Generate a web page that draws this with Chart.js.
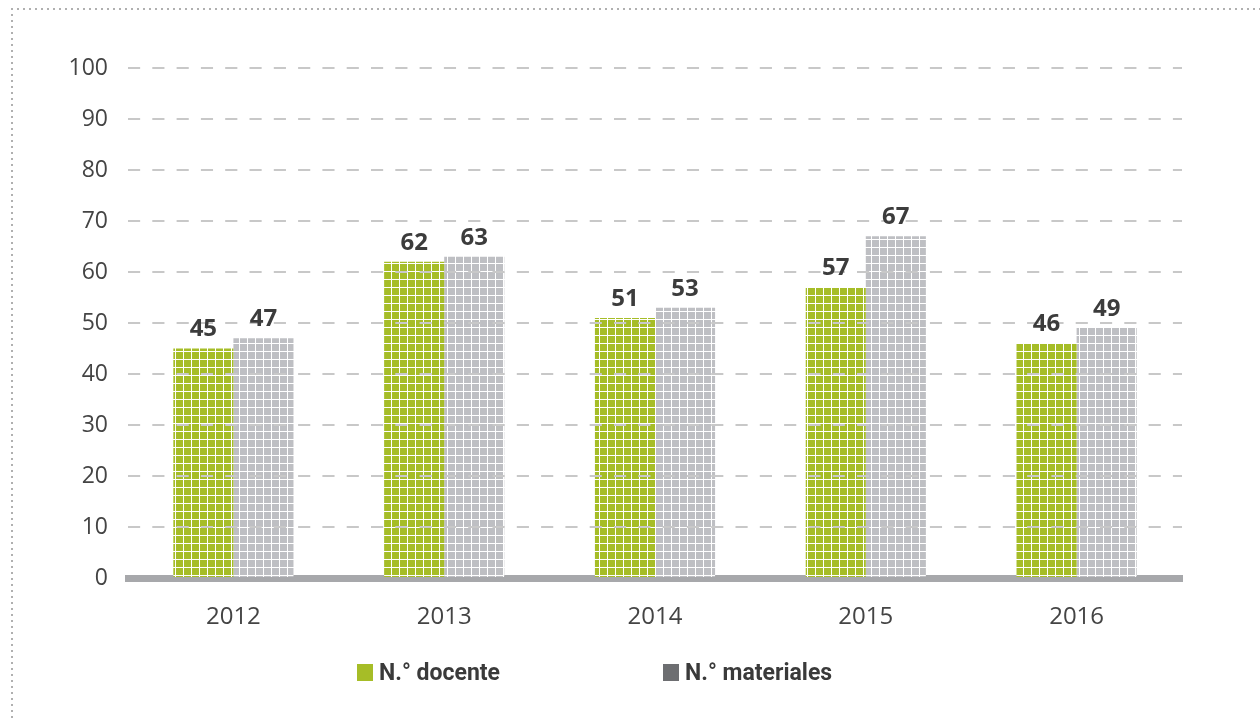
<!DOCTYPE html>
<html>
<head>
<meta charset="utf-8">
<script src="https://cdn.jsdelivr.net/npm/chart.js@4.4.1/dist/chart.umd.min.js"></script>
<style>
    html, body { margin: 0; padding: 0; background: #fff; }
    #wrap { position: relative; width: 1260px; height: 718px; overflow: hidden; }
    #chart { position: absolute; left: 0; top: 0; }
    .dots-top { position: absolute; left: 11px; top: 8px; right: 0; height: 2px;
        background: repeating-linear-gradient(to right, #b0b0b0 0 2px, transparent 2px 6px); }
    .dots-left { position: absolute; left: 11px; top: 8px; bottom: 0; width: 2px;
        background: repeating-linear-gradient(to bottom, #b0b0b0 0 2px, transparent 2px 6px); }
    .legend { position: absolute; top: 662px; font-family: "Liberation Sans Narrow", "Roboto", sans-serif;
        font-weight: bold; font-size: 23px; color: #3a3a3a; line-height: 22px; white-space: nowrap; }
    .legend span.box { display: inline-block; width: 16px; height: 17px; margin-right: 6px; vertical-align: -1px; }
</style>
</head>
<body>
<div id="wrap">
    <div class="dots-top"></div>
    <div class="dots-left"></div>
    <canvas id="chart" width="1260" height="718"></canvas>
    <div class="legend" id="leg1" style="left:357px"><span class="box" style="background:#a6bd27"></span>N.° docente</div>
    <div class="legend" id="leg2" style="left:663px"><span class="box" style="background:#6d6e71"></span>N.° materiales</div>
</div>
<script>
const years = ["2012", "2013", "2014", "2015", "2016"];
const docente = [45, 62, 51, 57, 46];
const materiales = [47, 63, 53, 67, 49];
const yTicks = [0, 10, 20, 30, 40, 50, 60, 70, 80, 90, 100];

function makePattern(color) {
    const tile = document.createElement("canvas");
    tile.width = 8;
    tile.height = 8;
    const c = tile.getContext("2d");
    c.fillStyle = color;
    c.fillRect(0, 0, 8, 8);
    c.fillStyle = "#ffffff";
    c.fillRect(7, 0, 1, 8);
    c.fillRect(0, 7, 8, 1);
    return document.getElementById("chart").getContext("2d").createPattern(tile, "repeat");
}

// value labels above the bars
const barLabels = {
    id: "barLabels",
    afterDraw(chart) {
        const ctx = chart.ctx;
        ctx.save();
        ctx.font = "bold 24px 'Open Sans', sans-serif";
        ctx.fillStyle = "#3c3c3c";
        ctx.textAlign = "center";
        ctx.textBaseline = "bottom";
        chart.data.datasets.forEach((ds, i) => {
            chart.getDatasetMeta(i).data.forEach((bar, j) => {
                ctx.fillText(ds.data[j], bar.x, bar.y - 7);
            });
        });
        ctx.restore();
    },
};

new Chart(document.getElementById("chart"), {
    type: "bar",
    data: {
        labels: years,
        datasets: [
            {
                label: "N.° docente",
                data: docente,
                backgroundColor: makePattern("#a6bd27"),
                borderWidth: 0,
                barPercentage: 1,
                categoryPercentage: 0.57,
            },
            {
                label: "N.° materiales",
                data: materiales,
                backgroundColor: makePattern("#bebfc3"),
                borderWidth: 0,
                barPercentage: 1,
                categoryPercentage: 0.57,
            },
        ],
    },
    options: {
        responsive: false,
        animation: false,
        layout: {
            padding: { top: 68, right: 78, left: 0, bottom: 0 },
        },
        plugins: {
            legend: { display: false },
            tooltip: { enabled: false },
        },
        scales: {
            x: {
                grid: { display: false },
                border: { display: true, color: "#a7a8ab", width: 7 },
                ticks: {
                    color: "#444444",
                    padding: 17,
                    font: { family: "'Open Sans', sans-serif", size: 24 },
                },
                afterFit(scale) {
                    scale.height = 140;
                },
            },
            y: {
                min: 0,
                max: 100,
                afterBuildTicks(scale) {
                    scale.ticks = yTicks.map((v) => ({ value: v }));
                },
                border: { display: false, dash: [12.15, 12.15] },
                grid: {
                    z: 1,
                    drawTicks: false,
                    lineWidth: 2,
                    color: (ctx) => (ctx.tick && ctx.tick.value === 0 ? "rgba(0,0,0,0)" : "#c8c8c8"),
                },
                ticks: {
                    color: "#444444",
                    padding: 20,
                    font: { family: "'Open Sans', sans-serif", size: 23 },
                },
                afterFit(scale) {
                    scale.width = 128;
                },
            },
        },
    },
    plugins: [barLabels],
});
</script>
</body>
</html>
